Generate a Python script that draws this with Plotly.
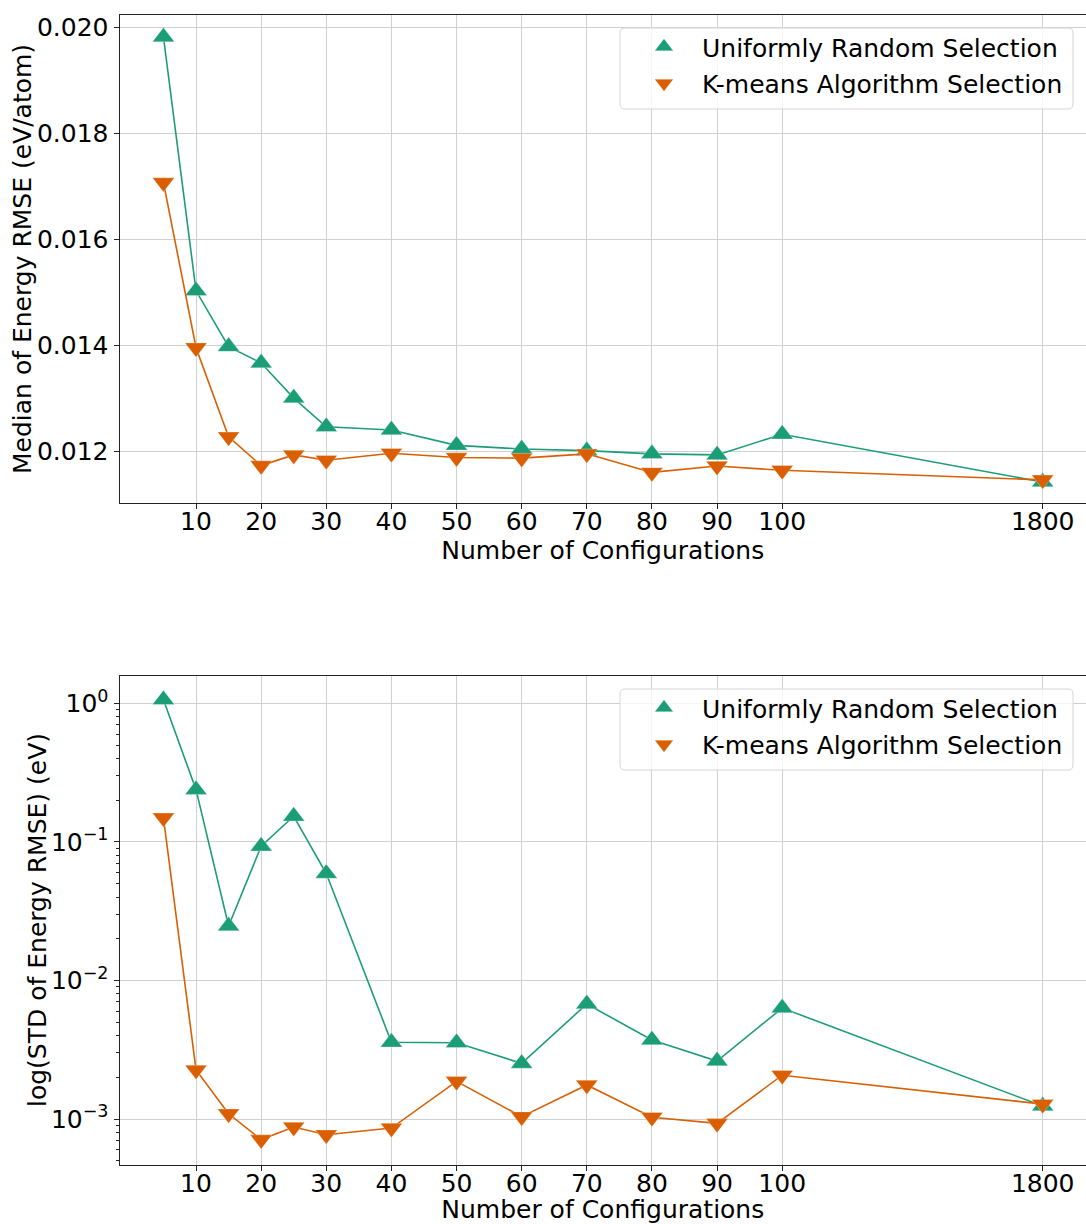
import plotly.graph_objects as go

# Number of training configurations; the full set (1800) is drawn at a
# compressed position after 100.
n_configs = [5, 10, 15, 20, 25, 30, 40, 50, 60, 70, 80, 90, 100, 1800]
x_pos = [5, 10, 15, 20, 25, 30, 40, 50, 60, 70, 80, 90, 100, 140]
tick_vals = [10, 20, 30, 40, 50, 60, 70, 80, 90, 100, 140]
tick_text = ["10", "20", "30", "40", "50", "60", "70", "80", "90", "100", "1800"]

# Median energy RMSE (eV/atom)
median_random = [0.01981, 0.01503, 0.01398, 0.01367, 0.01301, 0.01247, 0.01241,
                 0.01212, 0.01205, 0.01202, 0.01196, 0.01194, 0.01233, 0.01143]
median_kmeans = [0.01707, 0.01396, 0.01228, 0.01174, 0.01194, 0.01184, 0.01197,
                 0.01189, 0.01188, 0.01196, 0.01161, 0.01173, 0.01165, 0.01147]

# Standard deviation of energy RMSE (eV)
std_random = [1.06, 0.238, 0.0247, 0.093, 0.153, 0.0591, 0.00358,
              0.00355, 0.00252, 0.00676, 0.00372, 0.00262, 0.00632, 0.00124]
std_kmeans = [0.149, 0.00226, 0.00109, 0.00071, 0.000875, 0.00077, 0.00086,
              0.00187, 0.00104, 0.00176, 0.00103, 0.00093, 0.00207, 0.00128]

log_ticks = [1e-3, 1e-2, 1e-1, 1]
log_tick_text = ["10<sup>\u22123</sup>", "10<sup>\u22122</sup>",
                 "10<sup>\u22121</sup>", "10<sup>0</sup>"]
log_minor = [m * 10.0 ** e for e in range(-4, 1) for m in range(2, 10)]

GREEN = "#1b9e77"
ORANGE = "#d95f02"
FONT = "DejaVu Sans"
FS = 25
W, H = 1086, 1224

series = [
    ("Uniformly Random Selection", GREEN, "triangle-up"),
    ("K-means Algorithm Selection", ORANGE, "triangle-down"),
]

fig = go.Figure()

panels = [
    ("x", "y", "legend", [median_random, median_kmeans]),
    ("x2", "y2", "legend2", [std_random, std_kmeans]),
]
for xa, ya, leg, values in panels:
    for (name, color, symbol), vals in zip(series, values):
        fig.add_trace(go.Scatter(
            x=x_pos, y=vals, xaxis=xa, yaxis=ya, mode="lines",
            line=dict(color=color, width=1.6), showlegend=False,
            hoverinfo="skip"))
        fig.add_trace(go.Scatter(
            x=x_pos, y=vals, xaxis=xa, yaxis=ya, mode="markers",
            name=name, legend=leg, legendgroup=leg + name,
            marker=dict(symbol=symbol, size=19, color=color,
                        line=dict(color="rgba(255,255,255,0.35)", width=0.8)),
            customdata=n_configs,
            hovertemplate="%{customdata}: %{y}<extra>" + name + "</extra>"))


def px_x(px):
    return px / W


def px_y(py):
    return 1 - py / H


def rounded_box(x0, y0, x1, y1, r):
    """Rounded rectangle path in paper coordinates from pixel corners."""
    pts = [
        f"M{px_x(x0 + r)},{px_y(y0)}",
        f"L{px_x(x1 - r)},{px_y(y0)}",
        f"Q{px_x(x1)},{px_y(y0)} {px_x(x1)},{px_y(y0 + r)}",
        f"L{px_x(x1)},{px_y(y1 - r)}",
        f"Q{px_x(x1)},{px_y(y1)} {px_x(x1 - r)},{px_y(y1)}",
        f"L{px_x(x0 + r)},{px_y(y1)}",
        f"Q{px_x(x0)},{px_y(y1)} {px_x(x0)},{px_y(y1 - r)}",
        f"L{px_x(x0)},{px_y(y0 + r)}",
        f"Q{px_x(x0)},{px_y(y0)} {px_x(x0 + r)},{px_y(y0)}",
        "Z",
    ]
    return dict(type="path", xref="paper", yref="paper", path=" ".join(pts),
                fillcolor="rgba(255,255,255,0.8)",
                line=dict(color="#d6d6d6", width=1), layer="above")


x_common = dict(
    range=[-1.75, 146.65], domain=[px_x(119.5), 1.0], tickmode="array",
    tickvals=tick_vals, ticktext=tick_text,
    showgrid=True, gridcolor="#d0d0d0", gridwidth=1,
    showline=True, linecolor="#222222", linewidth=1, mirror=True,
    ticks="outside", ticklen=5, tickcolor="#222222", ticklabelstandoff=-9,
    tickfont=dict(family=FONT, size=FS, color="black"),
    zeroline=False, automargin=False,
    title=dict(text="Number of Configurations",
               font=dict(family=FONT, size=FS, color="black"), standoff=1),
)
y_common = dict(
    showgrid=True, gridcolor="#d0d0d0", gridwidth=1,
    showline=True, linecolor="#222222", linewidth=1, mirror=False,
    ticks="outside", ticklen=5, tickcolor="#222222",
    tickfont=dict(family=FONT, size=FS, color="black"),
    zeroline=False, automargin=False,
)

legend_common = dict(
    xanchor="right", yanchor="top",
    bgcolor="rgba(0,0,0,0)", borderwidth=0,
    font=dict(family=FONT, size=FS, color="black"),
    traceorder="grouped", tracegroupgap=1, itemwidth=66,
)

fig.update_layout(
    width=W, height=H,
    margin=dict(l=0, r=0, t=0, b=0),
    paper_bgcolor="white", plot_bgcolor="white",
    font=dict(family=FONT, size=FS, color="black"),
    xaxis=dict(anchor="y", **x_common),
    xaxis2=dict(anchor="y2", **x_common),
    yaxis=dict(
        anchor="x", domain=[px_y(503), px_y(15)],
        range=[0.011034, 0.020226], tickmode="array",
        tickvals=[0.012, 0.014, 0.016, 0.018, 0.020],
        ticktext=["0.012", "0.014", "0.016", "0.018", "0.020"],
        **y_common),
    yaxis2=dict(
        anchor="x2", type="log",
        domain=[px_y(1165), px_y(676)],
        range=[-3.332, 0.197], tickmode="array",
        tickvals=log_ticks, ticktext=log_tick_text,
        minor=dict(tickmode="array", tickvals=log_minor, ticks="outside",
                   ticklen=3, tickcolor="#222222", showgrid=False),
        **y_common),
    legend=dict(x=px_x(1068), y=px_y(24), **legend_common),
    legend2=dict(x=px_x(1068), y=px_y(685), **legend_common),
    shapes=[
        rounded_box(620, 28, 1073, 109, 5),
        rounded_box(620, 689, 1073, 770, 5),
    ],
    annotations=[
        dict(text="Median of Energy RMSE (eV/atom)", textangle=-90,
             xref="paper", yref="paper", x=px_x(22), y=px_y(259),
             xanchor="center", yanchor="middle", showarrow=False,
             font=dict(family=FONT, size=FS, color="black")),
        dict(text="log(STD of Energy RMSE) (eV)", textangle=-90,
             xref="paper", yref="paper", x=px_x(37), y=px_y(920),
             xanchor="center", yanchor="middle", showarrow=False,
             font=dict(family=FONT, size=FS, color="black")),
    ],
)

fig.write_html("out.html")
